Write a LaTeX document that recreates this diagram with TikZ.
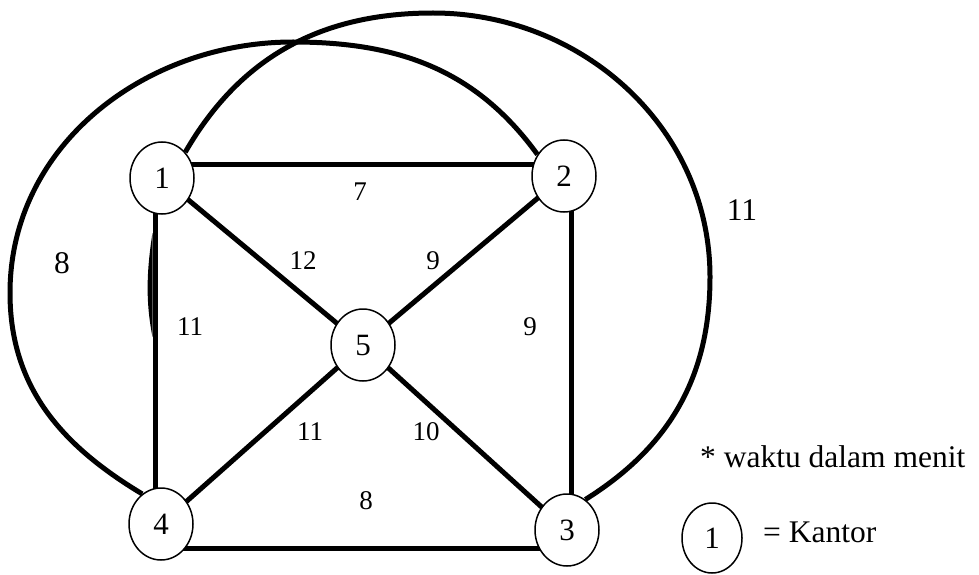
\documentclass[tikz,border=0pt]{standalone}
\usepackage{fontspec}
\setmainfont{Liberation Serif}
\usetikzlibrary{shapes.geometric,backgrounds}

\begin{document}
\begin{tikzpicture}[
  x=1pt, y=1pt,
  kantor/.style={draw, ellipse, line width=1.5pt, fill=white, inner sep=0pt, minimum width=64pt, minimum height=72pt, font=\fontsize{31}{33}\selectfont},
  jalan/.style={line width=5pt, draw=black},
  bobot/.style={font=\fontsize{27}{29}\selectfont, inner sep=0pt},
  luar/.style={font=\fontsize{31.5}{33}\selectfont, inner sep=0pt}
]
\useasboundingbox (0,0) rectangle (979,574);

\node[kantor] (n1) at (162,396) {1};
\node[kantor] (n2) at (564,398) {2};
\node[kantor] (n3) at (567,44) {3};
\node[kantor] (n4) at (161,50) {4};
\node[kantor] (n5) at (363,229) {5};

\coordinate (l8) at (10,281);
\coordinate (t8) at (293,532);
\coordinate (t11) at (433,561);
\coordinate (r11) at (710,297);

\begin{scope}[on background layer]
\fill[white] (0,0) rectangle (979,574);
\draw[jalan] ([yshift=13.5pt]n1.center) -- ([yshift=13.5pt]n1.center -| n2.center);
\draw[jalan] ([xshift=-7pt]n1.center) -- ([xshift=-7pt]n1.center |- n4.center);
\draw[jalan] ([xshift=7pt]n2.center) -- ([xshift=7pt]n2.center |- n3.center);
\draw[jalan] ([yshift=-24pt]n4.center) -- ([yshift=-24pt]n4.center -| n3.center);
\draw[jalan] (n1.center) -- (n5.center);
\draw[jalan] (n2.center) -- (n5.center);
\draw[jalan] (n4.center) -- (n5.center);
\draw[jalan] (n3.center) -- (n5.center);
\fill (152.5,341) .. controls (146,300) and (146,270) .. (152.5,237) -- cycle;
\draw[jalan] (n4.122) to[out=149, in=-90] (l8) to[out=90, in=180] (t8) to[out=0, in=126] (n2.141);
\draw[jalan] (n1.48) to[out=60, in=180] (t11) to[out=0, in=90] (r11) to[out=-90, in=32] (n3.59);
\end{scope}

\node[bobot] (w12) at (360,382) {7};
\node[bobot] (w15) at (303,313) {12};
\node[bobot] (w25) at (433,313) {9};
\node[bobot] (w14) at (190,247) {11};
\node[bobot] (w23) at (530,247) {9};
\node[bobot] (w45) at (310,142) {11};
\node[bobot] (w35) at (426,142) {10};
\node[bobot] (w43) at (366,73) {8};
\node[luar] (w42) at (62,311) {8};
\node[luar] (w13) at (742,364) {11};

\node[luar, anchor=west] (ket) at (700,117) {* waktu dalam menit};
\node[kantor, minimum width=60pt, minimum height=70pt] (leg) at (712,36) {1};
\node[luar, anchor=west] (legtxt) at (763,42) {= Kantor};

\end{tikzpicture}
\end{document}
